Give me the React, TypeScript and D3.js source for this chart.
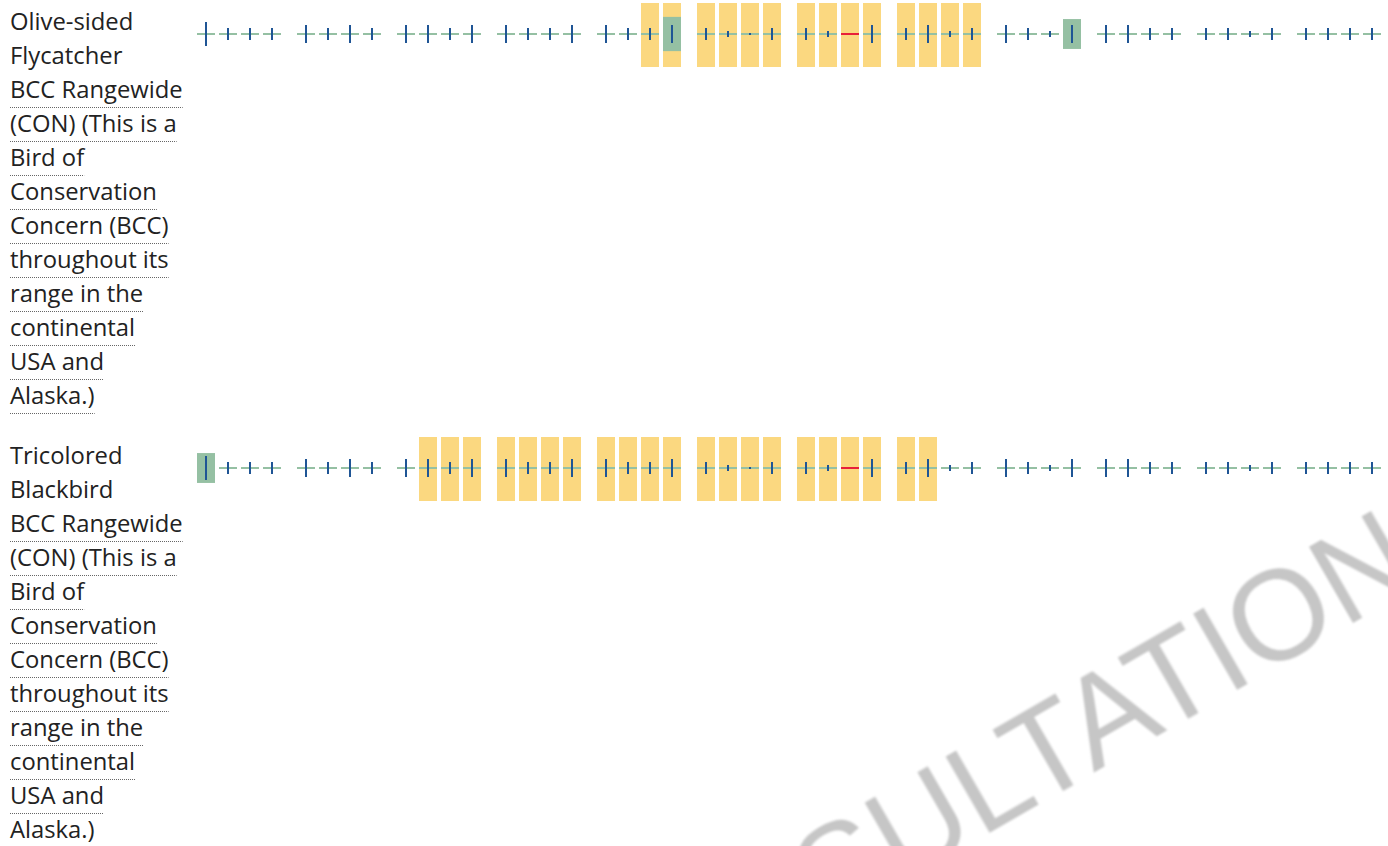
import React, { useEffect, useRef } from "react";
import * as d3 from "d3";

// months of the year, four weekly cells each
const months = ["Jan", "Feb", "Mar", "Apr", "May", "Jun", "Jul", "Aug", "Sep", "Oct", "Nov", "Dec"];
const weeks = [0, 1, 2, 3];

// survey effort level per week (0 = very low .. 4 = high), null = no data
const surveyEffort = [
  4, 2, 2, 2, 3, 2, 3, 2, 3, 3, 2, 3, 3, 2, 2, 3,
  3, 2, 2, 3, 2, 1, 0, 2, 2, 1, null, 3, 2, 3, 1, 2,
  3, 2, 1, 3, 3, 3, 2, 2, 2, 2, 1, 2, 2, 2, 2, 2,
];

// probability of presence per week (0..1)
const oliveProb = [
  0, 0, 0, 0, 0, 0, 0, 0, 0, 0, 0, 0, 0, 0, 0, 0,
  0, 0, 0, 0.52, 0, 0, 0, 0, 0, 0, 0, 0, 0, 0, 0, 0,
  0, 0, 0, 0.45, 0, 0, 0, 0, 0, 0, 0, 0, 0, 0, 0, 0,
];
const tricoloredProb = [
  0.45, 0, 0, 0, 0, 0, 0, 0, 0, 0, 0, 0, 0, 0, 0, 0,
  0, 0, 0, 0, 0, 0, 0, 0, 0, 0, 0, 0, 0, 0, 0, 0,
  0, 0, 0, 0, 0, 0, 0, 0, 0, 0, 0, 0, 0, 0, 0, 0,
];

// breeding season as [first week, last week]
const oliveBreeding = [18, 31];
const tricoloredBreeding = [9, 29];

const oliveLabel = [
  "Olive-sided", "Flycatcher", "BCC Rangewide", "(CON) (This is a", "Bird of",
  "Conservation", "Concern (BCC)", "throughout its", "range in the",
  "continental", "USA and", "Alaska.)",
];
const tricoloredLabel = [
  "Tricolored", "Blackbird", "BCC Rangewide", "(CON) (This is a", "Bird of",
  "Conservation", "Concern (BCC)", "throughout its", "range in the",
  "continental", "USA and", "Alaska.)",
];

const species = [
  { label: oliveLabel, prob: oliveProb, breeding: oliveBreeding },
  { label: tricoloredLabel, prob: tricoloredProb, breeding: tricoloredBreeding },
];

const W = 1388;
const H = 846;
const rowStep = 434;
const lineH = 34;

const YELLOW = "#fbd880";
const GREEN = "#95c0a3";
const BLUE = "#1f5595";
const RED = "#e8203a";

export default function App() {
  const svgRef = useRef(null);

  useEffect(() => {
    const svg = d3.select(svgRef.current);
    svg.selectAll("*").remove();

    const xMonth = d3.scaleBand().domain(months).range([197, 1381]).paddingInner(0.16);
    const xWeek = d3.scaleBand().domain(weeks).range([0, xMonth.bandwidth()]).paddingInner(4 / 22);
    const cw = xWeek.bandwidth();
    const cellX = (i) => xMonth(months[Math.floor(i / 4)]) + xWeek(i % 4);

    const effortH = d3.scaleLinear().domain([0, 4]).range([0, 24]);
    const probH = d3.scaleLinear().domain([0, 1]).range([2, 64]);

    const defs = svg.append("defs");
    defs.append("filter").attr("id", "soft").append("feGaussianBlur").attr("stdDeviation", 0.9);

    // watermark behind everything
    svg.append("text")
      .attr("transform", "translate(1424,582) rotate(-30)")
      .attr("text-anchor", "end")
      .attr("font-family", "'Liberation Sans', Arial, sans-serif")
      .attr("font-size", 128)
      .attr("fill", "#c6c6c6")
      .attr("filter", "url(#soft)")
      .text("NOT FOR CONSULTATION");

    species.forEach((sp, r) => {
      const g = svg.append("g").attr("transform", `translate(0,${r * rowStep})`);
      const cy = 34;

      // label with dotted underlines
      const lab = g.append("g");
      sp.label.forEach((t, i) => {
        const by = 30 + i * lineH;
        const txt = lab.append("text")
          .attr("x", 10)
          .attr("y", by)
          .attr("font-family", "'Open Sans', sans-serif")
          .attr("font-size", 23.8)
          .attr("fill", "#222")
          .text(t);
        if (i >= 2) {
          const len = txt.node().getComputedTextLength();
          lab.append("line")
            .attr("x1", 10).attr("x2", 10 + len)
            .attr("y1", by + 9.5).attr("y2", by + 9.5)
            .attr("stroke", "#666")
            .attr("stroke-width", 1)
            .attr("stroke-dasharray", "1,1");
        }
      });

      const cells = d3.range(48).map((i) => ({
        i,
        x: cellX(i),
        effort: surveyEffort[i],
        prob: sp.prob[i],
        breeding: i >= sp.breeding[0] && i <= sp.breeding[1],
      }));

      g.selectAll("rect.breed")
        .data(cells.filter((d) => d.breeding))
        .join("rect")
        .attr("x", (d) => d.x)
        .attr("y", 3)
        .attr("width", cw)
        .attr("height", 64)
        .attr("fill", YELLOW);

      g.selectAll("rect.prob")
        .data(cells.filter((d) => d.effort !== null))
        .join("rect")
        .attr("x", (d) => d.x)
        .attr("y", (d) => cy - probH(d.prob) / 2)
        .attr("width", cw)
        .attr("height", (d) => probH(d.prob))
        .attr("fill", GREEN);

      g.selectAll("rect.nodata")
        .data(cells.filter((d) => d.effort === null))
        .join("rect")
        .attr("x", (d) => d.x)
        .attr("y", cy - 1)
        .attr("width", cw)
        .attr("height", 2)
        .attr("fill", RED);

      g.selectAll("rect.effort")
        .data(cells.filter((d) => d.effort !== null))
        .join("rect")
        .attr("x", (d) => d.x + cw / 2 - 1)
        .attr("y", (d) => cy - Math.max(2, effortH(d.effort)) / 2)
        .attr("width", 2)
        .attr("height", (d) => Math.max(2, effortH(d.effort)))
        .attr("fill", BLUE);
    });
  }, []);

  return (
    <svg
      ref={svgRef}
      width={W}
      height={H}
      style={{ position: "absolute", left: 0, top: 0, background: "#fff" }}
    />
  );
}
